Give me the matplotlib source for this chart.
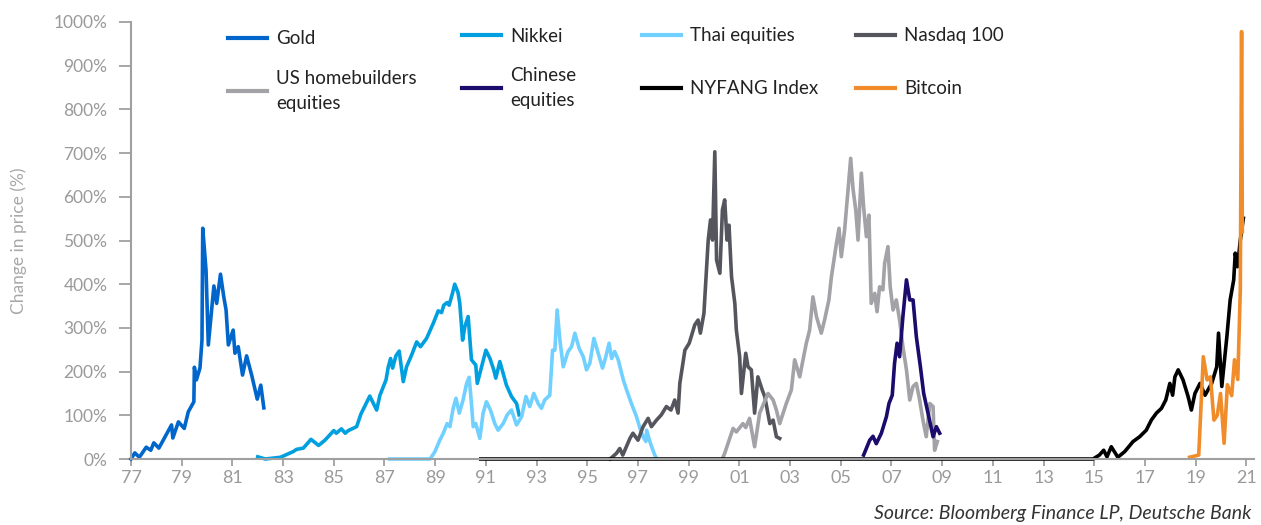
import matplotlib
matplotlib.use("Agg")
import matplotlib.pyplot as plt
from matplotlib.lines import Line2D

plt.rcParams['font.family'] = ['Lato', 'DejaVu Sans']

# ---- data (decimal years, % change) ----
gold_x = [1977.0, 1977.15, 1977.33, 1977.6, 1977.78, 1977.9, 1978.1, 1978.6, 1978.65, 1978.87,
          1979.1, 1979.26, 1979.48, 1979.5, 1979.58, 1979.72, 1979.8, 1979.83, 1979.96, 1980.05,
          1980.27, 1980.38, 1980.53, 1980.66, 1980.75, 1980.84, 1981.03, 1981.1, 1981.23, 1981.4,
          1981.56, 1981.76, 1981.98, 1982.12, 1982.24]
gold_y = [0, 14, 4, 27, 20, 37, 25, 78, 48, 85,
          70, 108, 131, 210, 181, 208, 272, 528, 432, 261,
          396, 356, 423, 371, 341, 261, 295, 242, 257, 192,
          236, 192, 137, 169, 117]

nikkei_x = [1982.0, 1982.3, 1982.9, 1983.4, 1983.53, 1983.8, 1984.1, 1984.4, 1984.65, 1985.0,
            1985.1, 1985.3, 1985.45, 1985.57, 1985.9, 1986.07, 1986.42, 1986.69, 1986.82, 1987.06,
            1987.15, 1987.24, 1987.32, 1987.45, 1987.58, 1987.74, 1987.87, 1988.07, 1988.27, 1988.42,
            1988.66, 1988.92, 1989.12, 1989.25, 1989.34, 1989.47, 1989.55, 1989.68, 1989.77, 1989.9,
            1989.97, 1990.08, 1990.17, 1990.3, 1990.43, 1990.6, 1990.66, 1990.83, 1991.0, 1991.16,
            1991.31, 1991.39, 1991.55, 1991.68, 1991.81, 1992.01, 1992.21, 1992.31]
nikkei_y = [5, 0, 4, 17, 22, 25, 45, 31, 43, 65,
            59, 69, 59, 65, 74, 103, 144, 112, 146, 181,
            211, 230, 208, 236, 247, 177, 211, 238, 268, 257,
            276, 310, 339, 335, 352, 358, 352, 379, 400, 381,
            356, 272, 303, 326, 227, 215, 173, 211, 249, 230,
            204, 185, 223, 196, 169, 143, 127, 101]

thai_x = [1987.2, 1988.8, 1988.99, 1989.18, 1989.32, 1989.47, 1989.58, 1989.71, 1989.82, 1989.95,
          1990.1, 1990.24, 1990.34, 1990.43, 1990.5, 1990.6, 1990.76, 1990.89, 1991.02, 1991.18,
          1991.35, 1991.48, 1991.68, 1991.84, 1992.01, 1992.21, 1992.41, 1992.58, 1992.73, 1992.89,
          1993.06, 1993.19, 1993.32, 1993.52, 1993.63, 1993.72, 1993.81, 1993.92, 1994.05, 1994.24,
          1994.38, 1994.51, 1994.68, 1994.84, 1994.97, 1995.1, 1995.26, 1995.43, 1995.6, 1995.73,
          1995.86, 1995.96, 1996.08, 1996.22, 1996.42, 1996.55, 1996.74, 1996.94, 1997.1, 1997.2,
          1997.31, 1997.34, 1997.49, 1997.66, 1997.7]
thai_y = [0, 0, 17, 43, 59, 81, 74, 116, 139, 105,
          135, 173, 187, 127, 74, 81, 47, 105, 131, 112,
          81, 66, 81, 101, 112, 78, 97, 143, 120, 150,
          127, 116, 135, 146, 249, 249, 341, 272, 211, 246,
          257, 288, 253, 234, 204, 219, 276, 242, 208, 234,
          265, 230, 246, 227, 181, 158, 127, 97, 66, 51,
          40, 66, 36, 9, 5]

nasdaq_x = [1995.9, 1996.15, 1996.28, 1996.4, 1996.68, 1996.8, 1997.0, 1997.2, 1997.4, 1997.53,
            1997.73, 1997.92, 1998.12, 1998.3, 1998.45, 1998.58, 1998.65, 1998.85, 1999.02, 1999.1,
            1999.24, 1999.37, 1999.46, 1999.6, 1999.7, 1999.77, 1999.86, 1999.94, 2000.03, 2000.1,
            2000.23, 2000.33, 2000.42, 2000.51, 2000.59, 2000.69, 2000.82, 2000.88, 2001.01, 2001.08,
            2001.25, 2001.34, 2001.47, 2001.6, 2001.73, 2001.9, 2002.0, 2002.2, 2002.33, 2002.46,
            2002.59]
nasdaq_y = [0, 13, 24, 9, 47, 59, 43, 74, 93, 74,
            89, 101, 120, 112, 135, 105, 173, 249, 265, 280,
            307, 318, 288, 333, 432, 501, 547, 501, 703, 455,
            425, 570, 593, 501, 535, 417, 356, 295, 234, 150,
            242, 211, 204, 105, 188, 158, 143, 81, 89, 51,
            47]

homebuilders_x = [2000.36, 2000.42, 2000.75, 2000.88, 2001.14, 2001.25, 2001.4, 2001.6, 2001.8, 2001.96,
                  2002.13, 2002.33, 2002.46, 2002.59, 2002.85, 2003.05, 2003.18, 2003.38, 2003.51, 2003.64,
                  2003.77, 2003.9, 2004.04, 2004.23, 2004.36, 2004.53, 2004.63, 2004.83, 2004.93, 2005.02,
                  2005.15, 2005.28, 2005.39, 2005.48, 2005.59, 2005.68, 2005.81, 2005.9, 2006.01, 2006.11,
                  2006.2, 2006.34, 2006.43, 2006.53, 2006.66, 2006.73, 2006.86, 2006.95, 2007.06, 2007.19,
                  2007.32, 2007.45, 2007.59, 2007.72, 2007.85, 2007.98, 2008.11, 2008.24, 2008.37, 2008.51,
                  2008.64, 2008.7, 2008.81]
homebuilders_y = [5, 13, 70, 62, 81, 72, 93, 28, 105, 127,
                  150, 135, 112, 81, 127, 158, 227, 188, 227, 265,
                  295, 371, 326, 288, 318, 364, 417, 494, 528, 463,
                  524, 612, 688, 619, 570, 501, 654, 577, 509, 558,
                  356, 379, 337, 394, 387, 448, 486, 394, 341, 364,
                  318, 257, 204, 135, 166, 173, 135, 89, 51, 127,
                  120, 20, 40]

chinese_x = [2005.9, 2006.14, 2006.27, 2006.4, 2006.6, 2006.8, 2006.9, 2007.03, 2007.12, 2007.22,
             2007.32, 2007.45, 2007.59, 2007.72, 2007.85, 2007.98, 2008.14, 2008.27, 2008.44, 2008.64,
             2008.77, 2008.9]
chinese_y = [9, 43, 52, 35, 59, 97, 127, 146, 219, 265,
             234, 326, 410, 364, 364, 280, 211, 150, 105, 51,
             74, 59]

nyfang_x = [1990.8, 2014.95, 2015.2, 2015.37, 2015.5, 2015.67, 2015.93, 2016.2, 2016.53, 2016.79,
            2017.05, 2017.25, 2017.45, 2017.65, 2017.82, 2017.98, 2018.09, 2018.18, 2018.31, 2018.5,
            2018.7, 2018.83, 2018.97, 2019.17, 2019.37, 2019.63, 2019.83, 2019.9, 2020.03, 2020.23,
            2020.36, 2020.5, 2020.56, 2020.65, 2020.76, 2020.88]
nyfang_y = [0, 0, 9, 20, 5, 28, 4, 17, 40, 51,
            66, 89, 105, 116, 135, 173, 146, 188, 204, 181,
            143, 112, 150, 173, 146, 173, 211, 288, 166, 280,
            364, 410, 471, 440, 501, 551]

bitcoin_x = [2018.76, 2019.12, 2019.3, 2019.45, 2019.58, 2019.72, 2019.85, 2019.98, 2020.12, 2020.25,
             2020.42, 2020.53, 2020.66, 2020.76, 2020.81, 2020.84]
bitcoin_y = [4, 9, 234, 181, 188, 89, 100, 150, 36, 170,
             145, 227, 182, 387, 978, 520]

series_names = ['Gold', 'Nikkei', 'Thai equities', 'Nasdaq 100',
                'US homebuilders\nequities', 'Chinese\nequities', 'NYFANG Index', 'Bitcoin']
series_colors = ['#0066cc', '#00a0e0', '#70d0ff', '#55555e',
                 '#a2a2a7', '#1c0a6c', '#000000', '#f08c2a']

tick_years = list(range(1977, 2022, 2))
tick_labels = ['%02d' % (y % 100) for y in tick_years]
ytick_vals = list(range(0, 1001, 100))
ytick_labels = ['%d%%' % v for v in ytick_vals]

W, H = 1261, 525
fig = plt.figure(figsize=(W / 100, H / 100), dpi=100)
ax = fig.add_axes([131 / W, 1 - 459 / H, (1254 - 131) / W, (459 - 22) / H])

xs = [gold_x, nikkei_x, thai_x, nasdaq_x, homebuilders_x, chinese_x, nyfang_x, bitcoin_x]
ys = [gold_y, nikkei_y, thai_y, nasdaq_y, homebuilders_y, chinese_y, nyfang_y, bitcoin_y]
lines = []
for x, y, c in zip(xs, ys, series_colors):
    ln, = ax.plot(x, y, color=c, lw=2.6, solid_joinstyle='round', clip_on=False)
    lines.append(ln)

ax.set_xlim(1977, 2021.3)
ax.set_ylim(0, 1000)
ax.set_xticks(tick_years)
ax.set_xticklabels(tick_labels)
ax.set_yticks(ytick_vals)
ax.set_yticklabels(ytick_labels)

grey = '#a0a0a0'
for s in ['top', 'right']:
    ax.spines[s].set_visible(False)
for s in ['left', 'bottom']:
    ax.spines[s].set_color(grey)
    ax.spines[s].set_linewidth(1.5)
ax.tick_params(axis='y', length=9, width=1.3, color=grey, labelcolor='#9a9a9a',
               labelsize=12.5, pad=8)
ax.tick_params(axis='x', length=5, width=1.3, color=grey, labelcolor='#9a9a9a',
               labelsize=13, pad=3)
ax.set_ylabel('Change in price (%)', color='#a8a8a8', fontsize=12.5, labelpad=19)

# legend, one entry per slot
slots = [(228, 39), (462, 36), (642, 36), (856, 36),
         (228, 91), (462, 88), (642, 89), (856, 89)]
for ln, name, (px, py) in zip(lines, series_names, slots):
    h = Line2D([], [], color=ln.get_color(), lw=3)
    leg = fig.legend(handles=[h], labels=[name], loc='center left',
                     bbox_to_anchor=(px / W, 1 - py / H), frameon=False,
                     borderpad=0, borderaxespad=0, handlelength=2.1,
                     handletextpad=0.45, fontsize=13.5)
    for t in leg.get_texts():
        t.set_color('#222222')
        t.set_linespacing(1.55)

fig.text(874 / W, 1 - 513 / H, 'Source: Bloomberg Finance LP, Deutsche Bank',
         ha='left', va='center', fontsize=14.0, style='italic', color='#333333')

fig.savefig('out.png', dpi=100)
